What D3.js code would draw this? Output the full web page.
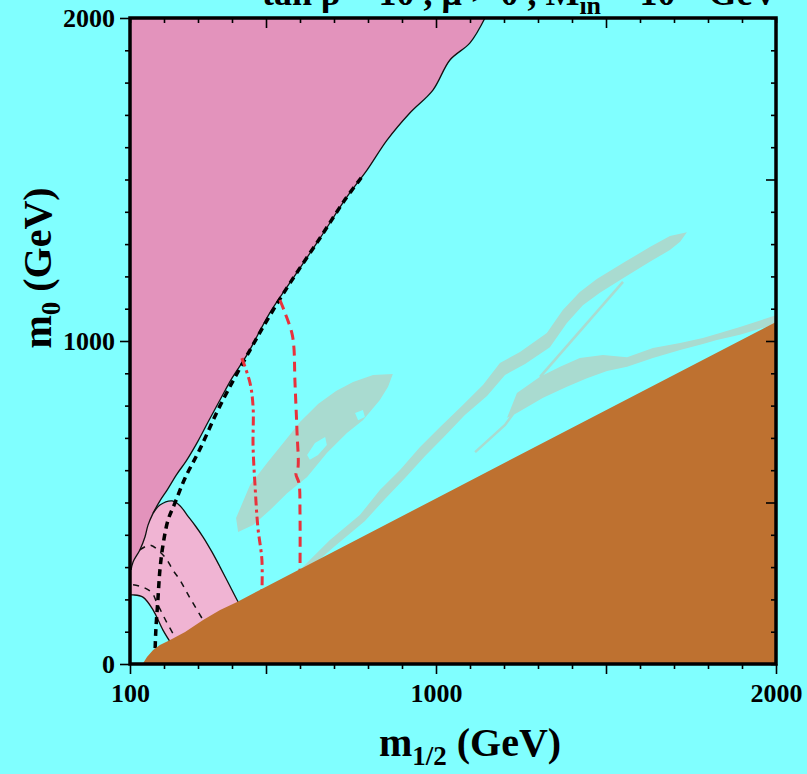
<!DOCTYPE html>
<html><head><meta charset="utf-8">
<script src="https://cdn.jsdelivr.net/npm/d3@7"></script>
<style>
html,body{margin:0;padding:0;background:#80FFFF;}
svg{display:block;}
text{font-family:"Liberation Serif","Times New Roman",serif;font-weight:bold;fill:#000;}
</style></head>
<body>
<svg id="c" width="807" height="774"></svg>
<script>
// ---- data (m1/2, m0) in GeV ----
const xDomain = [100, 2000];
const yDomain = [0, 2000];
const xTickValues = d3.range(100, 2001, 100);
const yTickValues = d3.range(0, 2001, 100);
const xLabels = [100, 1000, 2000];
const yLabels = [0, 1000, 2000];
const xMajor = [500, 1000, 1500];
const yMajor = [0, 1000, 2000];

// dark pink excluded region boundary
const darkPinkEdge = [[1144,2000],[1100,1923],[1041,1870],[991,1777],[923,1706],[856,1622],[797,1529],[738,1446],[660,1320],[576,1189],[510,1085],[444,957],[400,885],[365,818],[330,750],[300,690],[265,628],[238,588],[210,540],[188,505],[168,467],[153,430],[144,393],[129,353],[109,316],[103,291]];
// light pink region
const lightPinkTop = [[103,291],[109,316],[129,353],[144,393],[153,430],[168,467],[188,492],[224,505],[247,490],[268,461],[292,428],[315,393],[341,347],[365,300],[390,249],[415,198],[440,150],[460,110]];
const lightPinkBottom = [[250,20],[224,59],[197,105],[168,167],[138,207],[109,214],[100,214]];
// brown excluded region boundary
const brownEdge = [[137,0],[150,22],[168,43],[188,59],[218,74],[262,99],[315,136],[365,167],[415,192],[482,229],[1003,514],[2000,1059]];
// grey-green regions
const blobA = [[412,452],[453,554],[503,622],[553,687],[600,749],[653,805],[706,845],[756,873],[815,895],[873,898],[859,858],[835,817],[785,755],[738,715],[679,653],[621,579],[562,529],[512,477],[462,430],[418,409]];
const blobAHole1 = [[621,647],[644,684],[674,703],[679,678],[653,647],[629,632]];
const blobAHole2 = [[762,777],[785,786],[791,765],[771,755]];
const bandB1 = [[1738,1337],[1688,1325],[1629,1291],[1556,1245],[1473,1192],[1423,1152],[1373,1096],[1326,1025],[1247,966],[1188,932],[1138,864],[1079,802],[1012,734],[953,672],[894,601],[835,539],[776,461],[688,384],[629,322],[600,291],
  [615,285],[703,365],[791,443],[850,511],[909,576],[968,644],[1026,706],[1085,771],[1150,830],[1203,895],[1262,929],[1335,981],[1385,1056],[1432,1111],[1482,1149],[1556,1198],[1629,1245],[1688,1282],[1718,1307]];
const bandB2 = [[1238,839],[1306,889],[1365,920],[1423,947],[1491,957],[1562,950],[1638,978],[1718,994],[1785,1009],[1835,1025],[1894,1043],[2000,1080],
  [2000,1053],[1894,1019],[1826,1003],[1785,991],[1718,972],[1638,947],[1562,920],[1503,907],[1444,885],[1385,858],[1315,824],[1238,777],[1209,762]];
const thinL1 = [[1550,1183],[1306,889]];
const thinL2 = [[1238,790],[1203,740],[1115,656]];
// contours
const blackThickDash = [[173,12],[176,105],[182,198],[188,291],[197,368],[212,446],[232,498],[262,576],[306,666],[365,800],[453,972],[512,1080],[571,1180],[659,1319],[732,1437],[782,1508]];
const thinDashA = [[129,353],[159,368],[188,347],[209,322],[226,291],[247,260],[268,220],[285,189],[315,136]];
const thinDashB = [[109,245],[138,238],[165,220],[179,189],[194,158],[209,127],[232,84]];
const redDashDot = [[429,947],[453,870],[462,796],[462,672],[468,548],[476,424],[488,322],[488,223]];
const redDash = [[541,1127],[556,1087],[576,1025],[582,981],[585,879],[591,724],[594,607],[588,588],[597,560],[600,467],[600,276]];

// ---- drawing ----
const svg = d3.select("#c");
const W = 807, H = 774;
const x = d3.scaleLinear(xDomain, [130, 776]);
const y = d3.scaleLinear(yDomain, [664, 18]);

svg.append("rect").attr("width", W).attr("height", H).attr("fill", "#80FFFF");
svg.append("defs").append("clipPath").attr("id","clip").append("rect")
  .attr("x", 130).attr("y", 18).attr("width", 646).attr("height", 646);
const g = svg.append("g").attr("clip-path","url(#clip)");

const line = d3.line().x(d => x(d[0])).y(d => y(d[1]));
const smooth = d3.line().x(d => x(d[0])).y(d => y(d[1])).curve(d3.curveCatmullRom);
const poly = pts => line(pts) + "Z";

g.append("path").attr("d", poly([[100,2000], ...darkPinkEdge, [100,291]])).attr("fill", "#E393BC");
g.append("path").attr("d", poly([...lightPinkTop, ...lightPinkBottom])).attr("fill", "#F0B4D3");
const green = "#A9DBD0";
g.append("path").attr("d", poly(blobA) + poly(blobAHole1) + poly(blobAHole2)).attr("fill", green).attr("fill-rule","evenodd");
g.append("path").attr("d", poly(bandB1)).attr("fill", green);
g.append("path").attr("d", poly(bandB2)).attr("fill", green);
[thinL1, thinL2].forEach(l => g.append("path").attr("d", line(l)).attr("fill","none").attr("stroke", green).attr("stroke-width", 2.5));

g.append("path").attr("d", smooth(darkPinkEdge)).attr("fill","none").attr("stroke","#111").attr("stroke-width",1.3);
g.append("path").attr("d", smooth(lightPinkTop.slice(5))).attr("fill","none").attr("stroke","#111").attr("stroke-width",1.3);
g.append("path").attr("d", smooth(lightPinkBottom.slice().reverse())).attr("fill","none").attr("stroke","#111").attr("stroke-width",1.3);

g.append("path").attr("d", smooth(thinDashA)).attr("fill","none").attr("stroke","#111").attr("stroke-width",1.5).attr("stroke-dasharray","6,6");
g.append("path").attr("d", smooth(thinDashB)).attr("fill","none").attr("stroke","#111").attr("stroke-width",1.5).attr("stroke-dasharray","6,6");
g.append("path").attr("d", smooth(blackThickDash)).attr("fill","none").attr("stroke","#000").attr("stroke-width",3.5).attr("stroke-dasharray","7,5");
g.append("path").attr("d", smooth(redDashDot)).attr("fill","none").attr("stroke","#E8323C").attr("stroke-width",3).attr("stroke-dasharray","9,4,3,4");
g.append("path").attr("d", smooth(redDash)).attr("fill","none").attr("stroke","#E8323C").attr("stroke-width",3).attr("stroke-dasharray","10,6");

g.append("path").attr("d", poly([...brownEdge, [2000,0]])).attr("fill", "#BE7130");

// ---- axes ----
function styleAxis(sel, majors, major, minor, labels) {
  sel.select(".domain").remove();
  sel.selectAll(".tick line").attr("stroke","#000").attr("stroke-width",1.6);
  sel.selectAll(".tick").each(function(d){
    const isMaj = majors.includes(d);
    d3.select(this).select("line").each(function(){
      const l = d3.select(this);
      ["x2","y2"].forEach(a => { const v = +l.attr(a); if (v) l.attr(a, Math.sign(v) * (isMaj ? major : minor)); });
    });
  });
  sel.selectAll(".tick text").attr("font-size", 26).attr("font-family","Liberation Serif").attr("font-weight","bold")
    .text(d => labels.includes(d) ? d : "");
}
const axB = svg.append("g").attr("transform","translate(0,664)")
  .call(d3.axisBottom(x).tickValues(xTickValues).tickSize(5).tickPadding(15));
styleAxis(axB, xMajor.concat([100,2000]), 10, 5, xLabels);
axB.selectAll(".tick text").attr("dy","0.71em");
const axT = svg.append("g").attr("transform","translate(0,18)")
  .call(d3.axisTop(x).tickValues(xTickValues).tickSize(-5).tickFormat(""));
styleAxis(axT, xMajor, 10, 5, []);
axT.selectAll(".tick line").attr("y2", function(){ return Math.abs(+d3.select(this).attr("y2")); });
const axL = svg.append("g").attr("transform","translate(130,0)")
  .call(d3.axisLeft(y).tickValues(yTickValues).tickSize(5).tickPadding(10));
styleAxis(axL, yMajor, 10, 5, yLabels);
const axR = svg.append("g").attr("transform","translate(776,0)")
  .call(d3.axisRight(y).tickValues(yTickValues).tickSize(-5).tickFormat(""));
styleAxis(axR, [500,1000,1500], 10, 5, []);
axR.selectAll(".tick line").attr("x2", function(){ return -Math.abs(+d3.select(this).attr("x2")); });

svg.append("rect").attr("x",130).attr("y",18).attr("width",646).attr("height",646)
  .attr("fill","none").attr("stroke","#000").attr("stroke-width",3.5);

// titles
const xt = svg.append("text").attr("x", 470).attr("y", 756).attr("text-anchor","middle").attr("font-size", 40);
xt.append("tspan").text("m");
xt.append("tspan").attr("font-size", 27).attr("dy", 9).text("1/2");
xt.append("tspan").attr("dy", -9).text(" (GeV)");

const yt = svg.append("text").attr("transform","translate(51,268) rotate(-90)").attr("text-anchor","middle").attr("font-size", 40);
yt.append("tspan").text("m");
yt.append("tspan").attr("font-size", 27).attr("dy", 9).text("0");
yt.append("tspan").attr("dy", -9).text(" (GeV)");

const tt = svg.append("text").attr("x", 262).attr("y", 5).attr("font-size", 36);
tt.append("tspan").text("tan β = 10 ,  μ > 0 , M");
tt.append("tspan").attr("font-size", 26).attr("dy", 9).text("in");
tt.append("tspan").attr("dy", -9).text(" = 10");
tt.append("tspan").attr("font-size", 24).attr("dy", -14).text("12");
tt.append("tspan").attr("dy", 14).text(" GeV");
</script>
</body></html>
